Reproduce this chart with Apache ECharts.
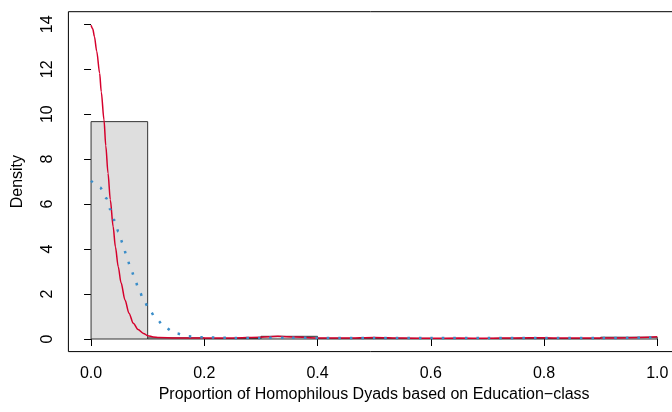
<!DOCTYPE html>
<html>
<head>
<meta charset="utf-8">
<script src="https://cdn.jsdelivr.net/npm/echarts@6/dist/echarts.min.js"></script>
<style>html,body{margin:0;padding:0;background:#fff}#c{width:672px;height:412px}</style>
</head>
<body>
<div id="c"></div>
<script>
// Histogram bins: [start, end, density]
const histBins = [
  [0.0, 0.1, 9.67], [0.1, 0.2, 0.05], [0.2, 0.3, 0.02], [0.3, 0.4, 0.12],
  [0.4, 0.5, 0.03], [0.5, 0.6, 0.03], [0.6, 0.7, 0.02], [0.7, 0.8, 0.03],
  [0.8, 0.9, 0.02], [0.9, 1.0, 0.08]
];
// Red density curve [x, density]
const redCurve = [
  [0,13.96],[0.003,13.8],[0.006,13.45],[0.010,12.8],[0.0152,11.82],[0.018,11.0],
  [0.0229,9.74],[0.026,8.6],[0.030,7.37],[0.034,6.2],[0.039,5.0],[0.043,4.1],
  [0.048,3.22],[0.053,2.5],[0.060,1.73],[0.067,1.15],[0.0747,0.70],[0.083,0.42],
  [0.0926,0.25],[0.1,0.15],[0.11,0.09],[0.12,0.07],[0.15,0.05],[0.2,0.04],
  [0.25,0.05],[0.3,0.08],[0.33,0.12],[0.36,0.09],[0.4,0.05],[0.45,0.04],
  [0.5,0.07],[0.55,0.04],[0.6,0.03],[0.65,0.04],[0.7,0.03],[0.75,0.05],
  [0.8,0.06],[0.85,0.04],[0.9,0.04],[0.95,0.06],[1.0,0.1]
];
// Blue dotted density curve [x, density]
const blueCurve = [
  [0,7.04],[0.0157,6.75],[0.0265,6.27],[0.034,5.77],[0.041,5.28],[0.0485,4.77],
  [0.0557,4.27],[0.062,3.77],[0.0688,3.26],[0.0765,2.76],[0.0837,2.25],
  [0.0926,1.77],[0.1028,1.29],[0.116,0.86],[0.1315,0.49],[0.150,0.25],
  [0.171,0.12],[0.193,0.075],[0.25,0.05],[0.3,0.05],[0.35,0.06],[0.4,0.05],
  [0.5,0.05],[0.6,0.04],[0.7,0.04],[0.8,0.05],[0.9,0.04],[1.0,0.07]
];
const xTicks = [0, 0.2, 0.4, 0.6, 0.8, 1.0];
const yTicks = [0, 2, 4, 6, 8, 10, 12, 14];
const xTitle = 'Proportion of Homophilous Dyads based on Education\u2212class';
const yTitle = 'Density';

const font = 'Liberation Sans, Arial, Helvetica, sans-serif';
const chart = echarts.init(document.getElementById('c'), null, {renderer: 'canvas'});
chart.setOption({
  animation: false,
  grid: {left: 68.4, top: 11.7, width: 611.5, height: 339.9, show: true, borderColor: '#000', borderWidth: 1,
    backgroundColor: 'transparent', containLabel: false, outerBoundsMode: 'none'},
  xAxis: {
    type: 'value', min: -0.04, max: 1.04,
    name: xTitle, nameLocation: 'middle', nameGap: 32.5,
    nameTextStyle: {fontFamily: font, fontSize: 16, color: '#000'},
    axisLine: {show: false},
    splitLine: {show: false},
    axisTick: {show: true, length: 7, inside: false, lineStyle: {color: '#000'}, customValues: xTicks},
    axisLabel: {fontFamily: font, fontSize: 16, color: '#000', margin: 14, customValues: xTicks,
      formatter: v => v.toFixed(1)}
  },
  yAxis: {
    type: 'value', min: -0.56, max: 14.56,
    name: yTitle, nameLocation: 'middle', nameGap: 43, nameRotate: 90,
    nameTextStyle: {fontFamily: font, fontSize: 16, color: '#000'},
    axisLine: {show: false},
    splitLine: {show: false},
    axisTick: {show: true, length: 7, lineStyle: {color: '#000'}, customValues: yTicks},
    axisLabel: {fontFamily: font, fontSize: 16, color: '#000', margin: 13, rotate: 90, customValues: yTicks}
  },
  series: [
    {
      type: 'custom',
      data: histBins,
      z: 1,
      clip: true,
      renderItem: function (params, api) {
        const p0 = api.coord([api.value(0), api.value(2)]);
        const p1 = api.coord([api.value(1), 0]);
        return {
          type: 'rect',
          shape: {x: p0[0], y: p0[1], width: p1[0] - p0[0], height: p1[1] - p0[1]},
          style: {fill: '#dedede', stroke: '#333', lineWidth: 1}
        };
      },
      encode: {x: [0, 1], y: 2}
    },
    {
      type: 'line', data: redCurve, showSymbol: false, smooth: 0.3, smoothMonotone: 'x', z: 2,
      lineStyle: {color: '#d5002c', width: 1.5}
    },
    {
      type: 'line', data: blueCurve, showSymbol: false, smooth: 0.3, smoothMonotone: 'x', z: 3,
      lineStyle: {color: '#3a8dc8', width: 2.5, type: [2.5, 9], cap: 'butt'}
    }
  ]
});
</script>
</body>
</html>
